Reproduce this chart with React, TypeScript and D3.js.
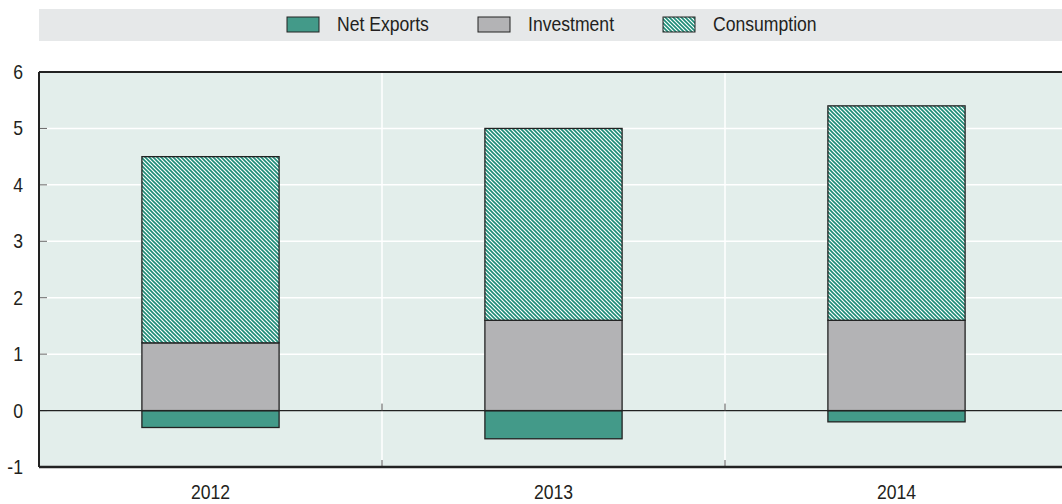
import React from "react";
import * as d3 from "d3";

const categories = ["2012", "2013", "2014"];
const netExports = [-0.3, -0.5, -0.2];
const investment = [1.2, 1.6, 1.6];
const consumption = [3.3, 3.4, 3.8];
const yTicks = [-1, 0, 1, 2, 3, 4, 5, 6];
const seriesNames = ["Net Exports", "Investment", "Consumption"];

const W = 1062;
const H = 504;
const left = 39;
const top = 72;
const bottom = 467;
const right = 1068;

const TEAL = "#439a89";
const HATCH = "#1c8c77";
const GRAY = "#b3b3b5";
const BG = "#e3eeeb";
const FONT = "'Liberation Sans', Arial, sans-serif";
const FS = 20;
const SX = 0.88;

function T(props: { x: number; y: number; anchor?: string; children: React.ReactNode }) {
  return (
    <text
      transform={`translate(${props.x},${props.y}) scale(${SX},1)`}
      textAnchor={props.anchor || "start"}
      fontFamily={FONT}
      fontSize={FS}
      fill="#231f20"
    >
      {props.children}
    </text>
  );
}

export default function App() {
  const x = d3.scaleBand<string>().domain(categories).range([left, right]).padding(0);
  const y = d3.scaleLinear().domain([-1, 6]).range([bottom, top]);
  const bw = x.bandwidth() * 0.4;
  const boundaries = categories.slice(1).map((c) => x(c)!);

  const fills = [TEAL, GRAY, "url(#hatch)"];
  const swatchX = [287, 478, 663];

  return (
    <svg width={W} height={H} style={{ display: "block", position: "absolute", left: 0, top: 0 }}>
      <defs>
        <pattern id="hatch" patternUnits="userSpaceOnUse" width={4} height={4}>
          <rect width={4} height={4} fill="#ffffff" />
          <path d="M-1,-1 L5,5 M-1,3 L1,5 M3,-1 L5,1" stroke={HATCH} strokeWidth={1.6} />
        </pattern>
      </defs>
      <rect x={0} y={0} width={W} height={H} fill="#ffffff" />
      {/* legend band */}
      <rect x={left} y={9} width={W - left} height={32} fill="#e6e8e9" />
      {seriesNames.map((name, i) => (
        <g key={name}>
          <rect x={swatchX[i]} y={17} width={32} height={15} fill={fills[i]} stroke="#222" strokeWidth={1} />
          <T x={swatchX[i] + 50} y={31}>
            {name}
          </T>
        </g>
      ))}
      {/* plot background */}
      <rect x={left} y={top} width={W - left} height={bottom - top} fill={BG} />
      {/* horizontal gridlines */}
      {yTicks
        .filter((t) => t > 0 && t < 6)
        .map((t) => (
          <line key={t} x1={left} x2={W} y1={y(t)} y2={y(t)} stroke="#ffffff" strokeWidth={1.5} />
        ))}
      {/* vertical gridlines */}
      {boundaries.map((b) => (
        <line key={b} x1={b} x2={b} y1={top} y2={bottom} stroke="#ffffff" strokeWidth={1.5} />
      ))}
      {/* left ticks */}
      {yTicks.map((t) => (
        <line key={t} x1={left} x2={left + 8} y1={y(t)} y2={y(t)} stroke="#666" strokeWidth={1} />
      ))}
      {/* bars */}
      {categories.map((c, i) => {
        const cx = x(c)! + x.bandwidth() / 2;
        const bx = cx - bw / 2;
        return (
          <g key={c}>
            <rect x={bx} y={y(0)} width={bw} height={y(netExports[i]) - y(0)} fill={TEAL} stroke="#222" strokeWidth={1.3} />
            <rect x={bx} y={y(investment[i])} width={bw} height={y(0) - y(investment[i])} fill={GRAY} stroke="#222" strokeWidth={1.3} />
            <rect
              x={bx}
              y={y(investment[i] + consumption[i])}
              width={bw}
              height={y(investment[i]) - y(investment[i] + consumption[i])}
              fill="url(#hatch)"
              stroke="#222"
              strokeWidth={1.3}
            />
          </g>
        );
      })}
      {/* zero line */}
      <line x1={left} x2={W} y1={y(0)} y2={y(0)} stroke="#222" strokeWidth={1.3} />
      {/* category ticks */}
      {boundaries.map((b) => (
        <g key={"t" + b}>
          <line x1={b} x2={b} y1={y(0)} y2={y(0) - 7} stroke="#555" strokeWidth={1} />
          <line x1={b} x2={b} y1={bottom} y2={bottom - 7} stroke="#555" strokeWidth={1} />
        </g>
      ))}
      {/* frame */}
      <line x1={left} x2={W} y1={top} y2={top} stroke="#222" strokeWidth={2} />
      <line x1={left} x2={W} y1={bottom} y2={bottom} stroke="#222" strokeWidth={2.5} />
      <line x1={left} x2={left} y1={top} y2={bottom} stroke="#222" strokeWidth={2} />
      {/* y labels */}
      {yTicks.map((t) => (
        <T key={t} x={23} y={y(t) + 7} anchor="end">
          {t}
        </T>
      ))}
      {/* x labels */}
      {categories.map((c) => (
        <T key={c} x={x(c)! + x.bandwidth() / 2} y={499} anchor="middle">
          {c}
        </T>
      ))}
    </svg>
  );
}
